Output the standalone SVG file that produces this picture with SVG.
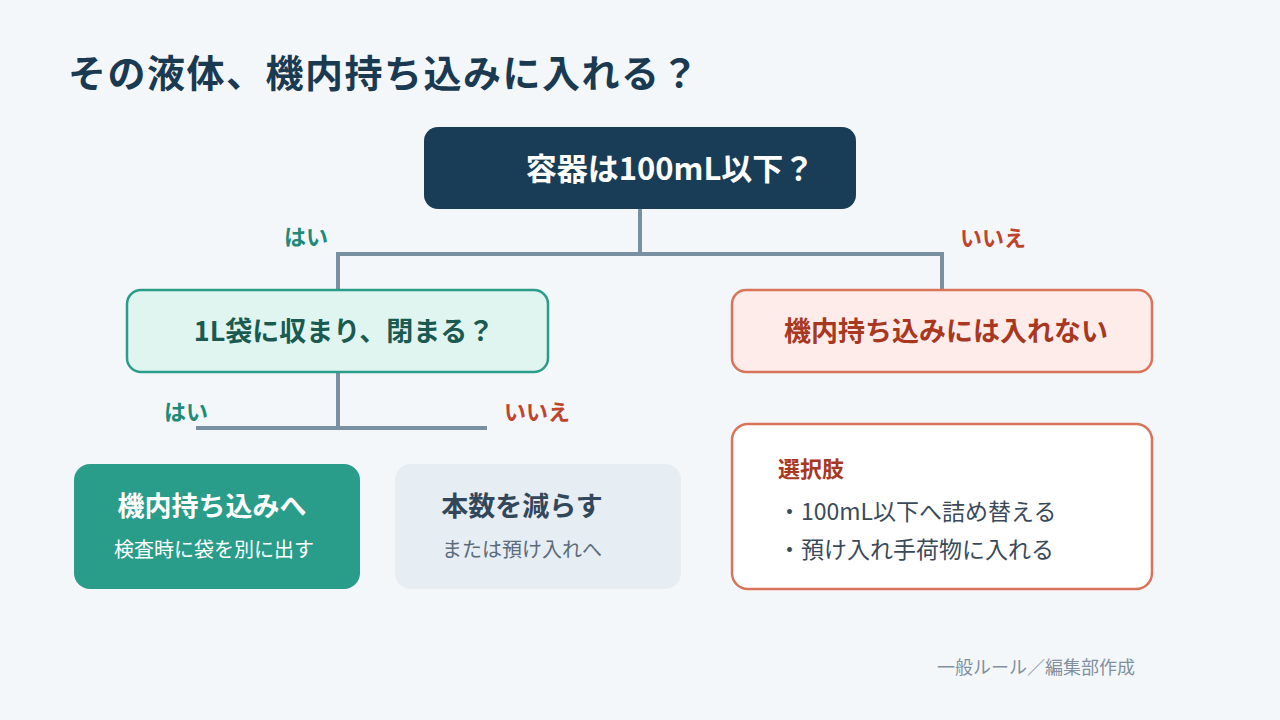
<svg xmlns="http://www.w3.org/2000/svg" width="1280" height="720" viewBox="0 0 1280 720">
<style>
text{font-family:"Noto Sans CJK JP","Noto Sans",sans-serif}
.b{font-weight:700}
.c{stroke:#7890a0;stroke-width:4;fill:none}
.yes{fill:#1f8a78;font-size:22px;font-weight:700}
.no{fill:#c0442c;font-size:22px;font-weight:700}
</style>
<rect width="1280" height="720" fill="#f4f7fa"/>
<text x="68" y="87" class="b" font-size="38" letter-spacing="1.5" fill="#1a3a52">その液体、機内持ち込みに入れる？</text>
<g id="connectors">
<path class="c" d="M640 209V254M338 290V254H942V290M338 372V428M196 428H487"/>
<text x="284" y="245" class="yes">はい</text>
<text x="960" y="246" class="no">いいえ</text>
<text x="164" y="420" class="yes">はい</text>
<text x="504" y="420" class="no">いいえ</text>
</g>
<g id="q1"><rect x="424" y="127" width="432" height="82" rx="14" fill="#1a3d57"/>
<text x="670" y="180" text-anchor="middle" class="b" font-size="31" fill="#fff">容器は100mL以下？</text></g>
<g id="q2"><rect x="127" y="290" width="421" height="82" rx="14" fill="#e0f5f0" stroke="#2a9d8a" stroke-width="2.5"/>
<text x="344" y="341" text-anchor="middle" class="b" font-size="27" fill="#1a5a50">1L袋に収まり、閉まる？</text></g>
<g id="ng"><rect x="732" y="290" width="420" height="82" rx="14" fill="#fdecea" stroke="#d9735a" stroke-width="2.5"/>
<text x="946" y="341" text-anchor="middle" class="b" font-size="27" fill="#a8381f">機内持ち込みには入れない</text></g>
<g id="ok"><rect x="74" y="464" width="286" height="125" rx="16" fill="#2a9d8a"/>
<text x="212" y="516" text-anchor="middle" class="b" font-size="27" fill="#fff">機内持ち込みへ</text>
<text x="214" y="557" text-anchor="middle" font-size="20" fill="#fff">検査時に袋を別に出す</text></g>
<g id="reduce"><rect x="395" y="464" width="286" height="125" rx="16" fill="#e6edf3"/>
<text x="522" y="516" text-anchor="middle" class="b" font-size="27" fill="#33475b">本数を減らす</text>
<text x="522" y="557" text-anchor="middle" font-size="20" fill="#5a6b7b">または預け入れへ</text></g>
<g id="options"><rect x="732" y="424" width="420" height="165" rx="16" fill="#fff" stroke="#d9735a" stroke-width="2.5"/>
<text x="778" y="477" class="b" font-size="22" fill="#a8381f">選択肢</text>
<text x="778" y="520" font-size="23" fill="#3a4a5a">・100mL以下へ詰め替える</text>
<text x="778" y="558" font-size="23" fill="#3a4a5a">・預け入れ手荷物に入れる</text></g>
<text x="1135" y="674" text-anchor="end" font-size="18" fill="#8090a0">一般ルール／編集部作成</text>
</svg>
